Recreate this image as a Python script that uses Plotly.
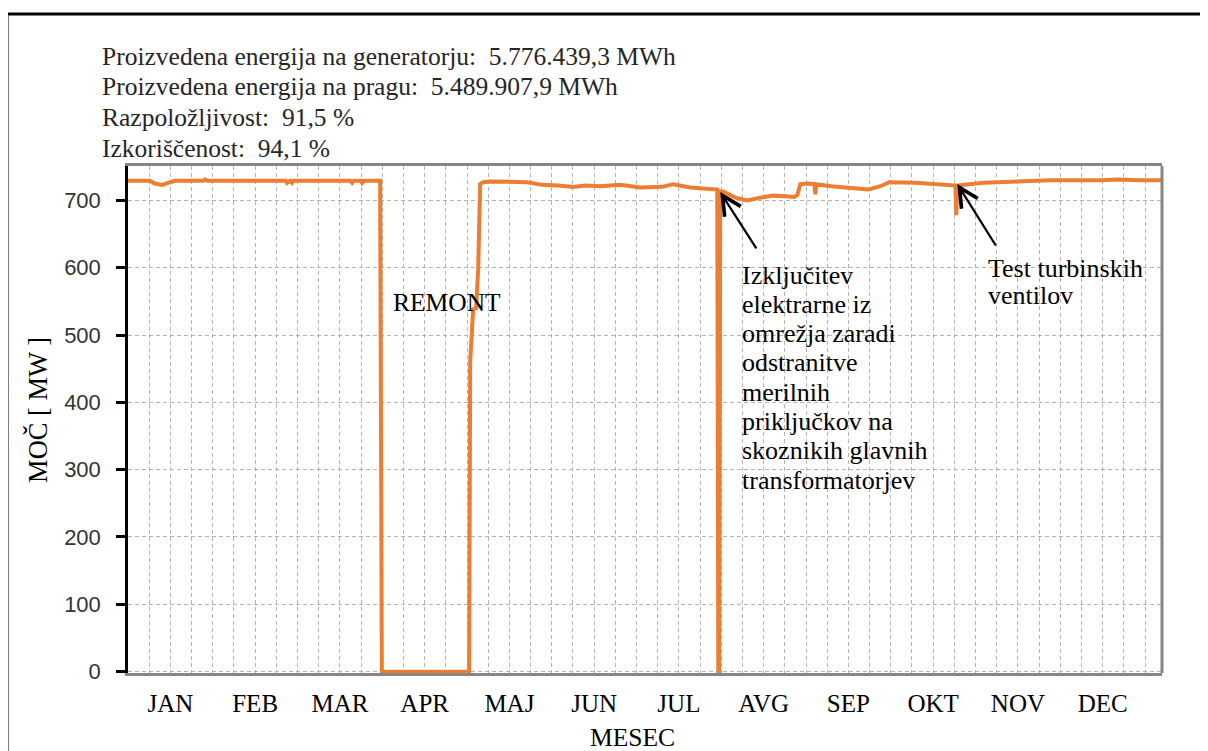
import plotly.graph_objects as go

# ---- data (x in quarter-month steps from 1 Jan, y in MW) ----
months = ["JAN", "FEB", "MAR", "APR", "MAJ", "JUN", "JUL", "AVG", "SEP", "OKT", "NOV", "DEC"]
month_pos = [2, 6, 10, 14, 18, 22, 26, 30, 34, 38, 42, 46]

x_pos = [0.00, 1.04, 1.27, 1.61, 1.89, 2.22, 3.55, 3.64, 3.73, 7.45, 7.51, 7.60, 7.65, 7.74, 7.80,
         10.50, 10.58, 10.66, 11.00, 11.05, 11.12, 11.90, 11.95, 11.98,
         16.10, 16.15, 16.29, 16.43, 16.53, 16.62, 16.76,
         17.10, 18.84, 19.55, 20.30, 21.01, 21.60, 22.29, 23.23, 24.17, 25.20, 25.73, 26.53, 27.10, 27.81,
         27.86, 27.90, 27.95, 28.09, 28.66, 29.22, 29.84, 30.45, 31.02, 31.44, 31.59, 31.73,
         32.11, 32.39, 32.44, 32.48, 33.19, 34.09, 34.94, 35.51, 35.93, 37.16, 38.10, 38.76,
         39.05, 39.09, 39.14, 40.37, 41.97, 43.53, 45.89, 46.74, 47.78, 48.80]
power_mw = [729, 729, 725, 723, 726, 729, 729, 731, 729, 729, 726, 729, 729, 726, 729,
            729, 726, 729, 729, 726, 729, 729, 300, 0,
            0, 460, 538, 540, 600, 724, 727,
            728, 727, 723, 722, 720, 722, 721, 723, 719, 720, 724, 719, 717, 716,
            0, 0, 713, 713, 704, 700, 704, 707, 706, 705, 708, 724,
            725, 724, 709, 724, 721, 719, 716, 721, 727, 726, 724, 723,
            722, 678, 722, 726, 728, 730, 730, 731, 730, 730]

y_ticks = [0, 100, 200, 300, 400, 500, 600, 700]

stats_lines = [
    "Proizvedena energija na generatorju:\u00a0 5.776.439,3 MWh",
    "Proizvedena energija na pragu:\u00a0 5.489.907,9 MWh",
    "Razpoložljivost:\u00a0 91,5 %",
    "Izkoriščenost:\u00a0 94,1 %",
]
outage_note = ["Izključitev", "elektrarne iz", "omrežja zaradi", "odstranitve",
               "merilnih", "priključkov na", "skoznikih glavnih", "transformatorjev"]
test_note = ["Test turbinskih", "ventilov"]

SERIF = "Liberation Serif"
ORANGE = "#ED7D31"
GRID = "#B4B4B4"
DASH = "4px,3px"

fig = go.Figure()
fig.add_trace(go.Scatter(x=x_pos, y=power_mw, mode="lines",
                         line=dict(color=ORANGE, width=4), hoverinfo="skip"))

ann = []
# statistics block (paper coords)
for txt, yp in zip(stats_lines, [1.215, 1.156, 1.095, 1.034]):
    ann.append(dict(text=txt, xref="paper", yref="paper", x=-0.027, y=yp,
                    xanchor="left", yanchor="middle", showarrow=False,
                    font=dict(family=SERIF, size=25.5, color="#262626")))
# y-axis title
ann.append(dict(text="MOČ [ MW ]", xref="paper", yref="paper", x=-0.087, y=0.519,
                textangle=-90, showarrow=False, xanchor="center", yanchor="middle",
                font=dict(family=SERIF, size=26.5, color="black")))
# x-axis title
ann.append(dict(text="MESEC", xref="paper", yref="paper", x=0.488, y=-0.128,
                showarrow=False, xanchor="center", yanchor="middle",
                font=dict(family=SERIF, size=25.5, color="black")))
# REMONT
ann.append(dict(text="REMONT", x=15.06, y=548.6, showarrow=False,
                xanchor="center", yanchor="middle",
                font=dict(family=SERIF, size=25.5, color="black")))
# outage note (one annotation per line, even spacing)
for i, txt in enumerate(outage_note):
    ann.append(dict(text=txt, x=28.9, y=589.1 - 43.5 * i, showarrow=False,
                    xanchor="left", yanchor="middle",
                    font=dict(family=SERIF, size=26, color="black")))
for i, txt in enumerate(test_note):
    ann.append(dict(text=txt, x=40.51, y=599.5 - 40.1 * i, showarrow=False,
                    xanchor="left", yanchor="middle",
                    font=dict(family=SERIF, size=26, color="black")))
# arrows
for hx, hy, tx, ty in [(27.95, 712.4, 29.7, 626.3), (39.14, 724.3, 41.0, 630.7)]:
    ann.append(dict(text="", x=hx, y=hy, ax=tx, ay=ty, axref="x", ayref="y",
                    showarrow=True, arrowhead=5, arrowsize=1.7, arrowwidth=2.2,
                    arrowcolor="black", standoff=0))

shapes = [
    dict(type="line", xref="paper", yref="paper", x0=1, x1=1, y0=0, y1=1,
         line=dict(color="#868686", width=3)),
    dict(type="rect", xref="paper", yref="paper", x0=-0.117, x1=1.3, y0=-0.3, y1=1.2996,
         line=dict(color="black", width=3), fillcolor="rgba(0,0,0,0)", layer="above"),
]

# page has an 8px body margin, so the canvas is 8px smaller each way
fig.update_layout(
    width=1200, height=743,
    margin=dict(l=120, r=46, t=158, b=78),
    paper_bgcolor="white", plot_bgcolor="white",
    showlegend=False, annotations=ann, shapes=shapes,
    xaxis=dict(range=[0, 48.8], tickmode="array", tickvals=month_pos, ticktext=months,
               tickfont=dict(family=SERIF, size=25, color="black"),
               showgrid=True, gridcolor=GRID, griddash=DASH, gridwidth=1,
               minor=dict(tickmode="array", tickvals=list(range(1, 49)), showgrid=True,
                          gridcolor=GRID, griddash=DASH, gridwidth=1, ticks=""),
               showline=True, linecolor="#868686", linewidth=3, mirror=True,
               ticks="", ticklabelstandoff=6, zeroline=False, layer="below traces"),
    yaxis=dict(range=[-2, 751], tickmode="array", tickvals=y_ticks,
               tickfont=dict(family="Liberation Sans", size=22, color="#333333"),
               showgrid=True, gridcolor=GRID, griddash=DASH, gridwidth=1,
               showline=True, linecolor="black", linewidth=2.5,
               ticks="outside", ticklen=9, tickwidth=3, tickcolor="black",
               ticklabelstandoff=11, zeroline=False, layer="below traces"),
)

fig.write_html("out.html")
